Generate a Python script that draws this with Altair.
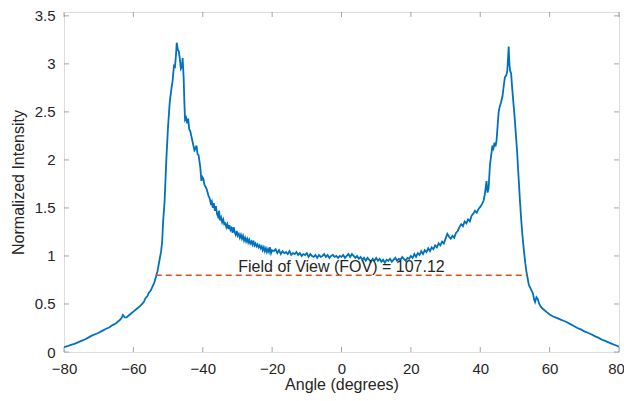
import altair as alt
import pandas as pd

angle = [
    -80, -79, -78, -77, -76, -75, -74, -73, -72, -71, -70, -69, -68, -67, -66, -65, -64,
    -63.5, -63, -62.5, -62, -61.5, -61, -60, -59, -58, -57, -56.5, -56, -55.5, -55, -54.5,
    -54, -53.5, -53, -52.5, -52, -51.7, -51.4, -51.0, -50.5, -50.0, -49.5, -49.0, -48.7,
    -48.3, -48.0, -47.7, -47.5, -47.2, -46.9, -46.6, -46.3, -46.0, -45.8, -45.5, -45.3,
    -45.1, -44.8, -44.5, -44.2, -43.9, -43.6, -43.3, -43.0, -42.7, -42.4, -42.1, -41.8,
    -41.5, -41.2, -41.0, -40.7, -40.4, -40.1, -39.8, -39.5, -39.2, -38.9, -38.6, -38.3,
    -38.0, -37.7, -37.4, -37.1, -36.8, -36.5, -36.2, -35.9, -35.6, -35.3, -35.0, -34.7,
    -34.4, -34.1, -33.8, -33.5, -33.2, -32.9, -32.6, -32.3, -32.0, -31.7, -31.4, -31.1,
    -30.8, -30.5, -30.2, -29.9, -29.6, -29.3, -29.0, -28.7, -28.4, -28.1, -27.8, -27.5,
    -27.2, -26.9, -26.6, -26.3, -26.0, -25.7, -25.4, -25.1, -24.8, -24.5, -24.2, -23.9,
    -23.6, -23.3, -23.0, -22.7, -22.4, -22.1, -21.8, -21.5, -21.2, -20.9, -20.6, -20.3,
    -20.0, -19.5, -19, -18.5, -18, -17.5, -17, -16.5, -16, -15.5, -15, -14.5, -14, -13.5,
    -13, -12.5, -12, -11.5, -11, -10.5, -10, -9.5, -9, -8.5, -8, -7.5, -7, -6.5, -6, -5.5,
    -5, -4.5, -4, -3.5, -3, -2.5, -2, -1.5, -1, -0.5, 0, 0.5, 1, 1.5, 2, 2.5, 3, 3.5, 4,
    4.5, 5, 5.5, 6, 6.5, 7, 7.5, 8, 8.5, 9, 9.5, 10, 10.5, 11, 11.5, 12, 12.5, 13, 13.5,
    14, 14.5, 15, 15.5, 16, 16.5, 17, 17.5, 18, 18.5, 19, 19.5, 20, 20.5, 21, 21.5, 22,
    22.5, 23, 23.5, 24, 24.5, 25, 25.5, 26, 26.5, 27, 27.5, 28, 28.5, 29, 29.5, 30, 30.5,
    31, 31.5, 32, 32.5, 33, 33.5, 34, 34.5, 35, 35.5, 36, 36.5, 37, 37.5, 38, 38.5, 39,
    39.5, 40, 40.5, 41, 41.3, 41.6, 41.8, 42.1, 42.4, 42.8, 43.2, 43.5, 43.8, 44.1, 44.4,
    44.7, 45.0, 45.3, 45.6, 46.0, 46.4, 46.8, 47.1, 47.5, 47.8, 48.0, 48.2, 48.4, 48.6,
    48.9, 49.2, 49.5, 49.9, 50.2, 50.6, 51.0, 51.4, 51.8, 52.2, 52.6, 53.0, 53.3, 53.7,
    54.0, 54.4, 54.8, 55.2, 55.5, 55.8, 56.2, 56.6, 57.0, 57.5, 58, 59, 60, 61, 62, 63,
    64, 65, 66, 67, 68, 69, 70, 71, 72, 73, 74, 75, 76, 77, 78, 79, 80,
]

intensity = [
    0.05, 0.06, 0.075, 0.085, 0.10, 0.115, 0.13, 0.15, 0.17, 0.185, 0.20, 0.22, 0.24, 0.255, 0.28, 0.30, 0.33,
    0.35, 0.385, 0.36, 0.36, 0.375, 0.39, 0.42, 0.45, 0.48, 0.52, 0.56, 0.58, 0.62, 0.64, 0.68,
    0.72, 0.78, 0.85, 0.95, 1.05, 1.15, 1.37, 1.57, 2.0, 2.35, 2.61, 2.75, 2.82,
    2.98, 2.97, 3.1, 3.22, 3.15, 3.13, 3.05, 2.95, 2.97, 3.06, 2.85, 2.6,
    2.42, 2.44, 2.38, 2.43, 2.32, 2.30, 2.25, 2.20, 2.15, 2.10, 2.12, 2.15,
    2.06, 2.05, 2.0, 1.92, 1.78, 1.82, 1.80, 1.74, 1.72, 1.70, 1.66, 1.62,
    1.60, 1.55, 1.57, 1.50, 1.55, 1.47, 1.52, 1.44, 1.41, 1.47, 1.37, 1.40,
    1.35, 1.38, 1.33, 1.34, 1.30, 1.33, 1.28, 1.32, 1.27, 1.29, 1.24, 1.30,
    1.25, 1.22, 1.26, 1.21, 1.23, 1.19, 1.22, 1.18, 1.21, 1.16, 1.19, 1.15,
    1.18, 1.14, 1.17, 1.13, 1.15, 1.12, 1.16, 1.11, 1.13, 1.10, 1.12, 1.09,
    1.11, 1.08, 1.10, 1.06, 1.09, 1.05, 1.08, 1.04, 1.07, 1.04, 1.09, 1.03,
    1.06, 1.05, 1.07, 1.03, 1.06, 1.02, 1.05, 1.03, 1.04, 1.02, 1.05, 1.01, 1.03, 1.02,
    1.04, 1.01, 1.03, 1.0, 1.02, 1.01, 1.03, 0.99, 1.02, 1.0, 0.99, 1.01, 0.98, 1.01, 0.99, 1.0,
    1.02, 0.99, 1.01, 0.98, 1.0, 1.01, 0.99, 1.0, 0.98, 1.0, 0.99, 1.01, 0.98, 1.0, 1.02, 0.99, 1.02, 1.0, 0.98,
    1.0, 0.97, 0.99, 0.96, 0.98, 0.95, 0.98, 0.96, 0.94, 0.97, 0.95, 0.98, 0.95, 0.97, 0.94, 0.96, 0.93, 0.96, 0.95,
    0.97, 0.94, 0.96, 0.98, 0.95, 0.97, 0.96, 0.99, 0.97, 0.95, 0.98, 0.97, 1.0, 0.98, 1.02, 0.99, 1.03,
    1.01, 1.05, 1.02, 1.06, 1.04, 1.08, 1.05, 1.09, 1.07, 1.11, 1.09, 1.13, 1.11, 1.15, 1.13, 1.18, 1.23,
    1.20, 1.18, 1.21, 1.19, 1.24, 1.26, 1.30, 1.33, 1.31, 1.36, 1.34, 1.38, 1.36, 1.42, 1.44, 1.47, 1.45,
    1.49, 1.51, 1.54, 1.58, 1.64, 1.72, 1.78, 1.66, 1.70, 1.95, 2.06, 2.15, 2.12, 2.18, 2.14,
    2.20, 2.35, 2.50, 2.55, 2.60, 2.66, 2.78, 2.86, 2.88, 2.93, 3.05, 3.18, 3.0, 2.93,
    2.90, 2.75, 2.62, 2.45, 2.30, 2.10, 1.85, 1.60, 1.38, 1.20, 1.05, 0.92, 0.84, 0.76,
    0.70, 0.67, 0.64, 0.61, 0.55, 0.52, 0.57, 0.55, 0.50, 0.47, 0.45, 0.42, 0.39, 0.37, 0.355, 0.34,
    0.325, 0.31, 0.29, 0.27, 0.25, 0.235, 0.215, 0.20, 0.185, 0.165, 0.15, 0.13, 0.115, 0.10, 0.085, 0.07, 0.055,
]

x_ticks = [-80, -60, -40, -20, 0, 20, 40, 60, 80]
y_ticks = [0, 0.5, 1, 1.5, 2, 2.5, 3, 3.5]

fov_start = -53.56
fov_end = 53.56
fov_level = 0.8
fov_label = "Field of View (FOV) = 107.12"
label_x = 0
label_y = 0.83

W, H = 555, 340
FONT = "Liberation Sans"
TXT = "#262626"
TK = "#808080"

df = pd.DataFrame({"angle": angle, "intensity": intensity})
xs = alt.Scale(domain=[-80, 80], nice=False, zero=False, padding=0)
ys = alt.Scale(domain=[0, 3.54], nice=False, zero=False, padding=0)

x_axis = alt.Axis(title="Angle (degrees)", values=x_ticks, ticks=False, domain=False,
                  grid=False, labelFontSize=15, titleFontSize=16, labelColor=TXT,
                  titleColor=TXT, labelPadding=9, labelFont=FONT, labelFlush=False,
                  labelOffset={"condition": {"test": "datum.value == 80", "value": -3}, "value": 0},
                  titleFont=FONT, titleFontWeight="normal", format="d",
                  titleBaseline="alphabetic", titleY=37)
y_axis = alt.Axis(title="Normalized Intensity", values=y_ticks, ticks=False, domain=False,
                  grid=False, labelFontSize=15, titleFontSize=16, labelColor=TXT,
                  titleColor=TXT, labelPadding=9, titlePadding=8, labelFont=FONT,
                  labelFlush=False, titleFont=FONT, titleFontWeight="normal", format="~g")


def X(field):
    return alt.X(field, scale=xs, axis=x_axis, title="Angle (degrees)")


def Y(field):
    return alt.Y(field, scale=ys, axis=y_axis, title="Normalized Intensity")


line = alt.Chart(df).mark_line(color="#0072BD", strokeWidth=1.8, clip=True).encode(
    x=X("angle:Q"), y=Y("intensity:Q"), order="angle:Q")

fov_df = pd.DataFrame({"x1": [fov_start], "x2": [fov_end], "y": [fov_level]})
fov = alt.Chart(fov_df).mark_rule(color="#D95319", strokeWidth=1.5, strokeDash=[6, 4]).encode(
    x=X("x1:Q"), x2="x2:Q", y=Y("y:Q"))

txt_df = pd.DataFrame({"x": [label_x], "y": [label_y], "t": [fov_label]})
txt = alt.Chart(txt_df).mark_text(font=FONT, fontSize=16, color=TXT, align="center",
                                   baseline="alphabetic").encode(
    x=X("x:Q"), y=Y("y:Q"), text="t:N")

xt_df = pd.DataFrame({"v": x_ticks})
yt_df = pd.DataFrame({"v": y_ticks})
xt_bot = alt.Chart(xt_df).mark_tick(color=TK, size=5, thickness=1, orient="vertical").encode(
    x=X("v:Q"), y=alt.value(H - 2.5))
xt_top = alt.Chart(xt_df).mark_tick(color=TK, size=5, thickness=1, orient="vertical").encode(
    x=X("v:Q"), y=alt.value(2.5))
yt_left = alt.Chart(yt_df).mark_tick(color=TK, size=5, thickness=1, orient="horizontal").encode(
    y=Y("v:Q"), x=alt.value(2.5))
yt_right = alt.Chart(yt_df).mark_tick(color=TK, size=5, thickness=1, orient="horizontal").encode(
    y=Y("v:Q"), x=alt.value(W - 2.5))

chart = alt.layer(line, fov, txt, xt_bot, xt_top, yt_left, yt_right).properties(
    width=W, height=H,
    autosize=alt.AutoSizeParams(type="none"),
    padding={"left": 56, "top": 4, "right": 5, "bottom": 41},
).configure_view(stroke=TK, strokeWidth=1.2).configure(background="white")

chart.save("out.html", embed_options={"renderer": "svg", "actions": False})
